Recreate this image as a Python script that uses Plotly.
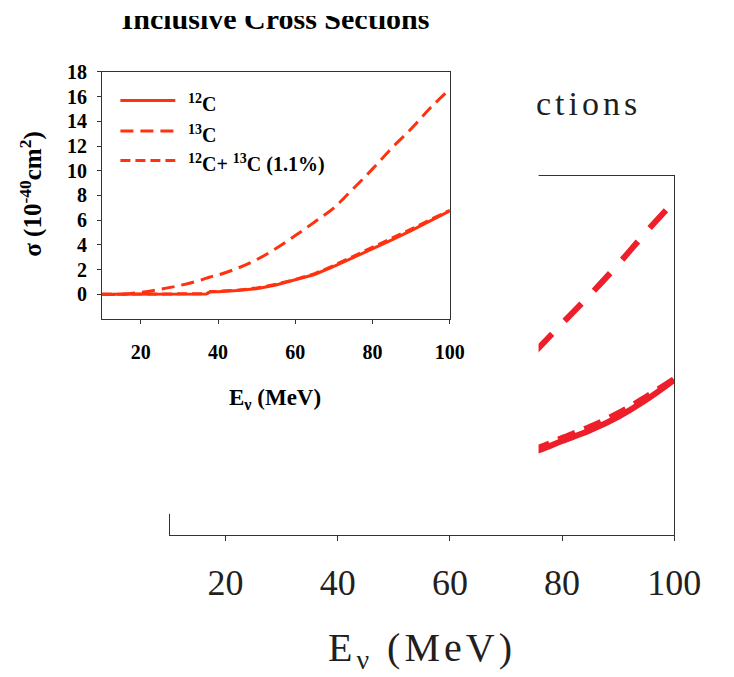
import plotly.graph_objects as go

# ---------------- data ----------------
# inset chart
E_inset = [10, 15, 20, 25, 30, 35, 37, 38, 40, 45, 50, 55, 60, 65, 70, 75, 80, 85, 90, 95, 100]
c12_inset = [0, 0, 0, 0, 0, 0, 0.02, 0.2, 0.2, 0.3, 0.45, 0.75, 1.15, 1.6, 2.25, 2.95, 3.7, 4.4, 5.15, 5.95, 6.75]
c13_inset = [0, 0, 0.15, 0.4, 0.7, 1.1, 1.3, 1.4, 1.55, 2.1, 2.8, 3.7, 4.75, 5.85, 7.0, 8.55, 10.15, 11.85, 13.4, 15.1, 16.6]
mix_inset = [0, 0, 0, 0, 0, 0.02, 0.04, 0.2, 0.22, 0.33, 0.5, 0.8, 1.2, 1.66, 2.33, 3.05, 3.8, 4.52, 5.27, 6.05, 6.8]

# large background chart (only the right part is visible)
E_big = [70, 76, 80, 85, 90, 95, 100]
c12_big = [2.1, 2.75, 3.25, 3.85, 4.6, 5.55, 6.66]
c13_big = [6.6, 8.5, 9.8, 11.4, 13.1, 14.9, 16.6]
mix_big = [2.25, 2.9, 3.42, 4.05, 4.8, 5.72, 6.7]

x_ticks = [20, 40, 60, 80, 100]
y_ticks = [0, 2, 4, 6, 8, 10, 12, 14, 16, 18]
names = ["<sup>12</sup>C", "<sup>13</sup>C", "<sup>12</sup>C+ <sup>13</sup>C (1.1%)"]

W, H = 734, 677
def px(v):
    return v / W
def py(v):
    return 1 - v / H

SERIF = "Liberation Serif"
BIG_RED = "#ee1f2a"
INS_RED = "#ff3210"
INK = "#231f20"

fig = go.Figure()

# ---- big chart traces (subplot xy) ----
fig.add_trace(go.Scatter(x=E_big, y=c13_big, mode="lines", line=dict(color=BIG_RED, width=6, dash="24px,18px", shape="spline"),
                         showlegend=False, hoverinfo="skip", xaxis="x", yaxis="y"))
fig.add_trace(go.Scatter(x=E_big, y=c12_big, mode="lines", line=dict(color=BIG_RED, width=6, shape="spline"),
                         showlegend=False, hoverinfo="skip", xaxis="x", yaxis="y"))
fig.add_trace(go.Scatter(x=E_big, y=mix_big, mode="lines", line=dict(color=BIG_RED, width=6, dash="18px,10px", shape="spline"),
                         showlegend=False, hoverinfo="skip", xaxis="x", yaxis="y"))

# ---- cover subplot (x2y2): holds the (cropped) inset title ----
fig.add_trace(go.Scatter(x=[286 / 559], y=[(511 - 11) / 506], mode="text", text=["Inclusive Cross Sections"],
                         textposition="middle center", cliponaxis=True,
                         textfont=dict(family=SERIF, size=30, color="black", weight="bold"),
                         showlegend=False, hoverinfo="skip", xaxis="x2", yaxis="y2"))

# ---- inset traces (subplot x3y3) ----
styles = [dict(color=INS_RED, width=3),
          dict(color=INS_RED, width=3, dash="13px,7px", shape="spline"),
          dict(color=INS_RED, width=3, dash="10px,5px")]
for yv, nm, st in zip([c12_inset, c13_inset, mix_inset], names, styles):
    fig.add_trace(go.Scatter(x=E_inset, y=yv, mode="lines", name=nm, line=st,
                             showlegend=False, xaxis="x3", yaxis="y3"))

fig.update_layout(
    width=W, height=H, autosize=False,
    margin=dict(l=0, r=0, t=0, b=0, pad=0),
    paper_bgcolor="white", plot_bgcolor="white",
    showlegend=False,
    # big chart axes
    xaxis=dict(domain=[px(176), px(700)], range=[10, 100], anchor="y",
               showline=True, linecolor="#333", linewidth=1, mirror=True,
               ticks="outside", ticklen=5, tickcolor="#333", tickvals=x_ticks,
               tickfont=dict(family=SERIF, size=36, color=INK), ticklabelstandoff=10,
               showgrid=False, zeroline=False),
    yaxis=dict(domain=[py(533), py(168)], range=[-2, 18], anchor="x",
               showline=True, linecolor="#333", linewidth=1, mirror=True,
               ticks="", showticklabels=False, showgrid=False, zeroline=False),
    # cover axes
    xaxis2=dict(domain=[0, px(559)], range=[0, 1], anchor="y2", visible=False, fixedrange=True),
    yaxis2=dict(domain=[py(511), py(5)], range=[0, 1], anchor="x2", visible=False, fixedrange=True),
    # inset axes
    xaxis3=dict(domain=[px(106), px(467)], range=[10, 100], anchor="y3",
                showline=True, linecolor="#333", linewidth=1.2, mirror=True,
                ticks="outside", ticklen=4, tickcolor="#333", tickvals=x_ticks,
                tickfont=dict(family=SERIF, size=20, color="black", weight="bold"), ticklabelstandoff=11,
                showgrid=False, zeroline=False),
    yaxis3=dict(domain=[py(313), py(62)], range=[-2, 18], anchor="x3",
                showline=True, linecolor="#333", linewidth=1.2, mirror=True,
                ticks="outside", ticklen=4, tickcolor="#333", tickvals=y_ticks,
                tickfont=dict(family=SERIF, size=20, color="black", weight="bold"), ticklabelstandoff=6,
                showgrid=False, zeroline=False),
)

# white cover over the left/top part of the big chart, drawn in the cover subplot
fig.add_shape(type="rect", xref="x2", yref="y2", x0=0, x1=1, y0=0, y1=1,
              fillcolor="white", line=dict(width=0), layer="below")

# manual legend of the inset (line samples + labels)
leg_rows = [91, 122, 152]
for (yy, nm, st) in zip(leg_rows, names, styles):
    fig.add_shape(type="line", xref="paper", yref="paper", x0=px(125), x1=px(182), y0=py(yy), y1=py(yy),
                  line=dict(color=st["color"], width=3, dash=st.get("dash", "solid")), layer="above")
    fig.add_annotation(text=nm, xref="paper", yref="paper", x=px(193), y=py(yy + 3),
                       xanchor="left", yanchor="middle", showarrow=False,
                       font=dict(family=SERIF, size=20, color="black", weight="bold"))

# text
fig.add_annotation(text='<span style="letter-spacing:4px">ctions</span>', xref="paper", yref="paper",
                   x=px(554), y=py(94), xanchor="left", yanchor="middle", showarrow=False,
                   font=dict(family=SERIF, size=34, color=INK))
fig.add_annotation(text='<span style="letter-spacing:4px">E<sub>ν</sub> (MeV)</span>', xref="paper", yref="paper",
                   x=px(438), y=py(650), xanchor="center", yanchor="middle", showarrow=False,
                   font=dict(family=SERIF, size=40, color=INK))
fig.add_annotation(text="E<sub>ν</sub> (MeV)", xref="paper", yref="paper",
                   x=px(286), y=py(394), xanchor="center", yanchor="middle", showarrow=False,
                   font=dict(family=SERIF, size=23, color="black", weight="bold"))
fig.add_annotation(text="σ (10<sup>-40</sup>cm<sup>2</sup>)", xref="paper", yref="paper",
                   x=px(33), y=py(186), xanchor="center", yanchor="middle", showarrow=False, textangle=-90,
                   font=dict(family=SERIF, size=25, color="black", weight="bold"))

fig.write_html(
    "out.html",
    config={"responsive": False},
    post_script="document.body.style.margin='0';document.body.style.padding='0';"
                "document.body.style.overflow='hidden';"
                "document.documentElement.style.overflow='hidden';",
)
